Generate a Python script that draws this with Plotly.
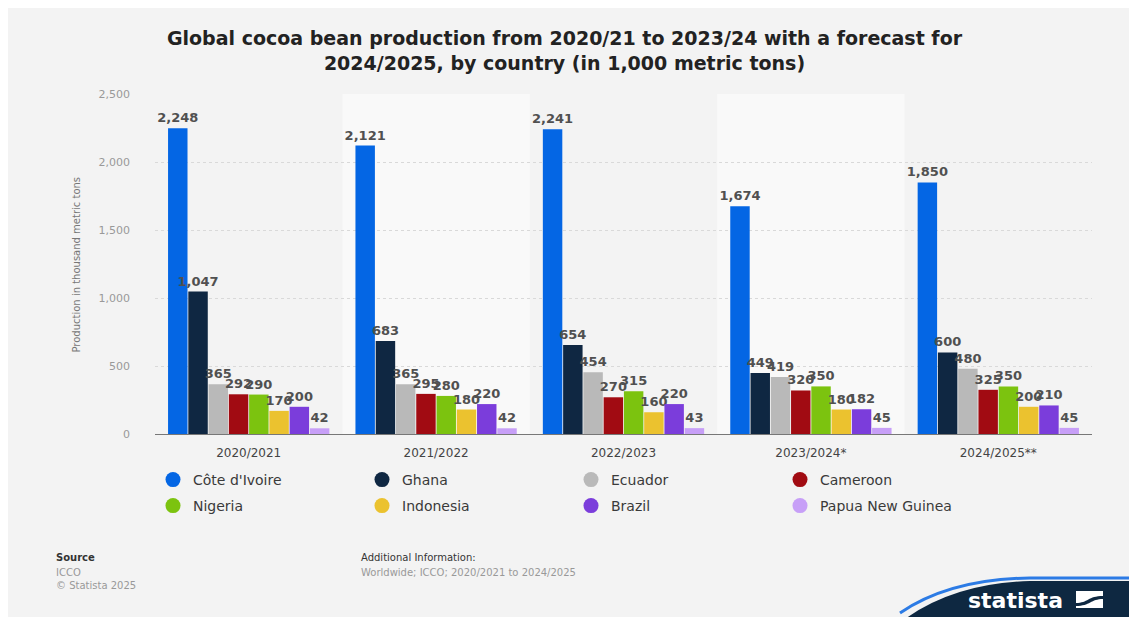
import plotly.graph_objects as go

# Crop seasons and producing countries
seasons = ["2020/2021", "2021/2022", "2022/2023", "2023/2024*", "2024/2025**"]
countries = ["Côte d'Ivoire", "Ghana", "Ecuador", "Cameroon",
             "Nigeria", "Indonesia", "Brazil", "Papua New Guinea"]

# Production in 1,000 metric tons, one list per country (season order as above)
cote_divoire = [2248, 2121, 2241, 1674, 1850]
ghana = [1047, 683, 654, 449, 600]
ecuador = [365, 365, 454, 419, 480]
cameroon = [292, 295, 270, 320, 325]
nigeria = [290, 280, 315, 350, 350]
indonesia = [170, 180, 160, 180, 200]
brazil = [200, 220, 220, 182, 210]
papua_new_guinea = [42, 42, 43, 45, 45]

series = [cote_divoire, ghana, ecuador, cameroon,
          nigeria, indonesia, brazil, papua_new_guinea]
colors = ["#0466e4", "#0f2742", "#b9b9b9", "#a10b12",
          "#7cc30f", "#ebc22f", "#7b3ddb", "#c79ff7"]

W, H = 1129, 617
ML, MR, MT, MB = 155, 37, 94, 183
PW, PH = W - ML - MR, H - MT - MB


def px(x):
    return (x - ML) / PW


def py(y):
    return (H - MB - y) / PH


FONT = "DejaVu Sans"

fig = go.Figure()

for name, vals, col in zip(countries, series, colors):
    fig.add_trace(go.Bar(
        x=seasons, y=vals, name=name, marker_color=col,
        marker_line_width=0, showlegend=False,
        text=vals, texttemplate="%{y:,}", textposition="outside",
        constraintext="none", cliponaxis=False,
        textfont=dict(family=FONT, size=13, color="#505050", weight="bold"),
        hoverinfo="skip",
    ))

# Round legend markers, four countries per legend row
for k, (name, col) in enumerate(zip(countries, colors)):
    fig.add_trace(go.Scatter(
        x=[None], y=[None], mode="markers", name=name,
        marker=dict(symbol="circle", size=15, color=col),
        showlegend=True, hoverinfo="skip",
        legend="legend" if k < 4 else "legend2",
    ))

shapes = []
# Light gray card behind everything
shapes.append(dict(type="rect", xref="paper", yref="paper",
                   x0=px(8), x1=px(W + 5), y0=py(H + 5), y1=py(8),
                   fillcolor="#f3f3f3", line_width=0, layer="below"))
# Lighter bands behind alternate seasons
for i in (1, 3):
    shapes.append(dict(type="rect", xref="x", yref="paper",
                       x0=i - 0.5, x1=i + 0.5, y0=0, y1=1,
                       fillcolor="#f9f9f9", line_width=0, layer="below"))


def path(points):
    return " ".join(points)


# statista badge
navy = path([f"M {px(905)},{py(H + 2)}",
             f"Q {px(955)},{py(583)} {px(1030)},{py(581)}",
             f"L {px(W + 2)},{py(581)}",
             f"L {px(W + 2)},{py(H + 2)} Z"])
shapes.append(dict(type="path", xref="paper", yref="paper", path=navy,
                   fillcolor="#0e2841", line_width=0))
edge = path([f"M {px(900)},{py(613)}",
             f"Q {px(950)},{py(579)} {px(1030)},{py(578)}",
             f"L {px(W + 2)},{py(578)}"])
shapes.append(dict(type="path", xref="paper", yref="paper", path=edge,
                   line=dict(color="#2c7be5", width=3)))
# Logo mark: white box with a swoosh
shapes.append(dict(type="rect", xref="paper", yref="paper",
                   x0=px(1076), x1=px(1103), y0=py(608), y1=py(591),
                   fillcolor="white", line_width=0))
swoosh = path([f"M {px(1076)},{py(603)}",
               f"C {px(1088)},{py(603)} {px(1088)},{py(596)} {px(1103)},{py(596)}",
               f"L {px(1103)},{py(599)}",
               f"C {px(1091)},{py(599)} {px(1090)},{py(606)} {px(1076)},{py(606)} Z"])
shapes.append(dict(type="path", xref="paper", yref="paper", path=swoosh,
                   fillcolor="#0e2841", line_width=0))

annotations = [
    dict(text="Production in thousand metric tons", textangle=-90,
         x=px(68), y=py(265), xref="paper", yref="paper",
         showarrow=False, font=dict(family=FONT, size=10, color="#777777")),
    dict(text="<b>Source</b>", x=px(54), y=py(557), xref="paper", yref="paper",
         xanchor="left", yanchor="middle", showarrow=False,
         font=dict(family=FONT, size=10, color="#333333")),
    dict(text="ICCO<br>© Statista 2025", x=px(54), y=py(565), xref="paper",
         yref="paper", xanchor="left", yanchor="top", showarrow=False,
         align="left", font=dict(family=FONT, size=10, color="#999999")),
    dict(text="Additional Information:", x=px(359), y=py(557), xref="paper",
         yref="paper", xanchor="left", yanchor="middle", showarrow=False,
         font=dict(family=FONT, size=10, color="#333333")),
    dict(text="Worldwide; ICCO; 2020/2021 to 2024/2025", x=px(359), y=py(572),
         xref="paper", yref="paper", xanchor="left", yanchor="middle",
         showarrow=False, font=dict(family=FONT, size=10, color="#999999")),
    dict(text="<b>statista</b>", x=px(1015), y=py(600), xref="paper",
         yref="paper", xanchor="center", yanchor="middle", showarrow=False,
         font=dict(family=FONT, size=22, color="white")),
]

legend_style = dict(
    orientation="h", xanchor="left", yanchor="top",
    entrywidth=164, entrywidthmode="pixels", bgcolor="rgba(0,0,0,0)",
    font=dict(family=FONT, size=14, color="#3a3a3a"),
    itemsizing="trace", traceorder="normal",
)

fig.update_layout(
    width=W, height=H,
    margin=dict(l=ML, r=MR, t=MT, b=MB, pad=0),
    paper_bgcolor="white", plot_bgcolor="rgba(0,0,0,0)",
    barmode="group", bargap=0.135, bargroupgap=0.04,
    title=dict(
        text="<b>Global cocoa bean production from 2020/21 to 2023/24 with a forecast for<br>"
             "2024/2025, by country (in 1,000 metric tons)</b>",
        x=0.5, xanchor="center", xref="container", y=1 - 45 / H, yanchor="middle",
        font=dict(family=FONT, size=19, color="#222222"),
    ),
    font=dict(family=FONT),
    xaxis=dict(
        type="category", showgrid=False, showline=True, linecolor="#777777",
        linewidth=1, ticks="", ticklabelstandoff=8,
        tickfont=dict(family=FONT, size=12, color="#444444"),
        range=[-0.5, 4.5],
    ),
    yaxis=dict(
        range=[0, 2500], tickvals=[0, 500, 1000, 1500, 2000, 2500],
        tickformat=",", showgrid=True, gridcolor="#d9d9d9", griddash="dot",
        gridwidth=1, zeroline=False, ticklabelstandoff=24,
        tickfont=dict(family=FONT, size=11, color="#999999"),
    ),
    legend=dict(legend_style, x=px(153), y=py(464)),
    legend2=dict(legend_style, x=px(153), y=py(490)),
    shapes=shapes,
    annotations=annotations,
)

fig.write_html("out.html")
